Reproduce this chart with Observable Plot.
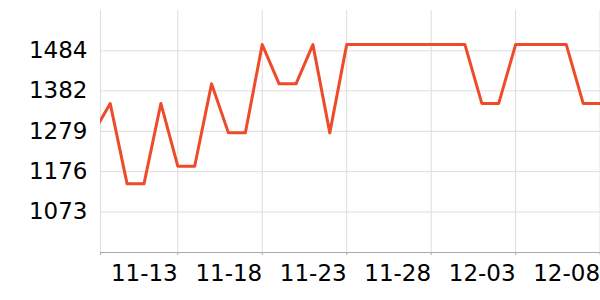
<!DOCTYPE html>
<html><head><meta charset="utf-8">
<script src="https://cdn.jsdelivr.net/npm/d3@7"></script>
<script src="https://cdn.jsdelivr.net/npm/@observablehq/plot@0.6"></script>
<style>body{margin:0;background:#fff}</style>
</head><body><div id="chart"></div>
<script>
const dates = ["2023-11-08","2023-11-09","2023-11-10","2023-11-11","2023-11-12","2023-11-13","2023-11-14","2023-11-15","2023-11-16","2023-11-17","2023-11-18","2023-11-19","2023-11-20","2023-11-21","2023-11-22","2023-11-23","2023-11-24","2023-11-25","2023-11-26","2023-11-27","2023-11-28","2023-11-29","2023-11-30","2023-12-01","2023-12-02","2023-12-03","2023-12-04","2023-12-05","2023-12-06","2023-12-07","2023-12-08"];
const values = [1275,1350,1145,1145,1350,1190,1190,1400,1275,1275,1500,1400,1400,1500,1275,1500,1500,1500,1500,1500,1500,1500,1500,1350,1350,1500,1500,1500,1500,1350,1350];
const xTickLabels = ["2023-11-13","2023-11-18","2023-11-23","2023-11-28","2023-12-03","2023-12-08"];
const yTicks = [1073,1176,1279,1382,1484];
const yDomain = [970,1587];

const parse = d3.utcParse("%Y-%m-%d");
const fmt = d3.utcFormat("%m-%d");
const data = dates.map((d,i)=>({date:parse(d), value:values[i]}));
const xStart = new Date(Date.UTC(2023,10,8,10,13));
const xEnd = new Date(Date.UTC(2023,11,8,0,37));
const xTicks = xTickLabels.map(parse);
const xAll = [xStart, ...xTicks];

const chart = Plot.plot({
  width: 600, height: 300,
  marginLeft: 100, marginRight: 0, marginTop: 10, marginBottom: 48,
  style: {fontFamily: "DejaVu Sans", background: "#fff"},
  x: {type: "utc", domain: [xStart, xEnd]},
  y: {domain: yDomain},
  marks: [
    Plot.ruleX(xAll, {stroke: "#dddddd", strokeOpacity: 1}),
    Plot.ruleY(yTicks, {stroke: "#dddddd", strokeOpacity: 1}),
    Plot.ruleY([yDomain[0]], {stroke: "#aaaaaa"}),
    Plot.axisX(xAll, {tickFormat: d => (+d === +xStart ? "" : fmt(d)), textAnchor: "end", tickSize: 3, tickPadding: 9, fontSize: 23, stroke: "#aaaaaa", fill: "#000", label: null}),
    Plot.axisY(yTicks, {tickFormat: d => String(d), tickSize: 0, tickPadding: 13, fontSize: 23, fill: "#000", label: null}),
    Plot.lineY(data, {x: "date", y: "value", stroke: "#ee4b2b", strokeWidth: 3, clip: true})
  ]
});
document.getElementById("chart").appendChild(chart);
</script>
</body></html>
